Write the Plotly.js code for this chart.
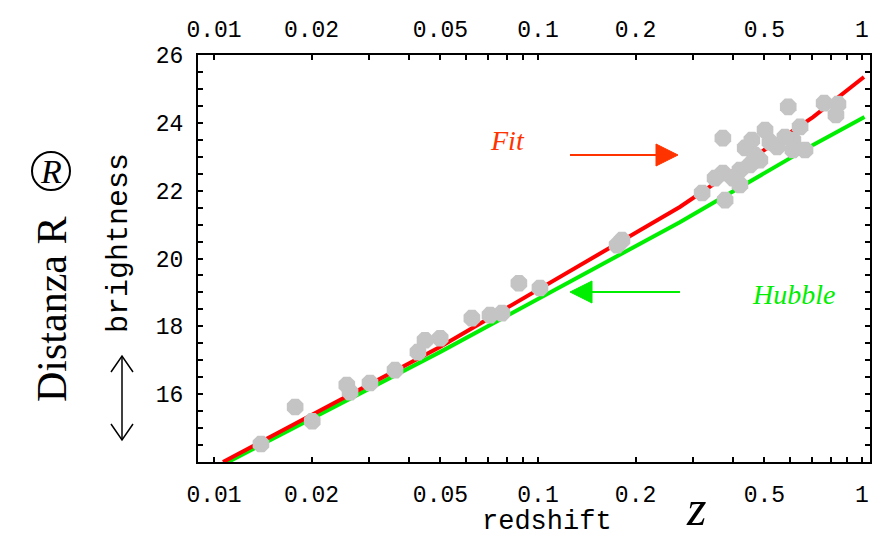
<!DOCTYPE html>
<html>
<head>
<meta charset="utf-8">
<script src="https://cdn.plot.ly/plotly-3.0.1.min.js"></script>
<style>html,body{margin:0;padding:0;background:#fff;}#chart{width:886px;height:539px;}</style>
</head>
<body>
<div id="chart"></div>
<script>
// ---- data ----
const snZ = [0.01396,0.0178,0.0201,0.0257,0.0263,0.0303,0.0362,0.0426,0.0448,0.0499,0.0625,0.0711,0.0774,0.0873,0.1014,0.1754,0.1816,
  0.372,0.592,0.764,0.843,0.831,0.502,0.436,0.457,0.372,0.352,0.321,0.378,0.420,0.420,0.400,0.484,0.547,0.612,0.644,0.578,0.520,0.667,0.612,0.451,0.467];
const snM = [14.53,15.62,15.20,16.27,16.06,16.33,16.71,17.24,17.59,17.65,18.24,18.33,18.39,19.27,19.13,20.39,20.54,
  23.55,24.47,24.58,24.55,24.23,23.79,23.26,23.49,22.52,22.37,21.93,21.72,22.17,22.61,22.37,22.90,23.29,23.49,23.88,23.58,23.43,23.20,23.20,22.76,23.05];
const fitZ = [0.01066,0.0498,0.274,0.706,1.014];
const fitM = [14.0,17.39,21.52,24.17,25.35];
const hubZ = [0.0109,0.0498,0.274,0.706,1.018];
const hubM = [13.97,17.24,21.07,23.35,24.17];
const xTickVals = [0.01,0.02,0.05,0.1,0.2,0.5,1];
const xTickText = ['0.01','0.02','0.05','0.1','0.2','0.5','1'];
const xMinorVals = [0.03,0.04,0.06,0.07,0.08,0.09,0.3,0.4,0.6,0.7,0.8,0.9];
const yTickVals = [16,18,20,22,24,26];
const yTickText = ['16','18','20','22','24','26'];
const yMinorVals = [14.5,15,15.5,16.5,17,17.5,18.5,19,19.5,20.5,21,21.5,22.5,23,23.5,24.5,25,25.5];

// all ticks (labelled majors + blank minors)
const xAllVals = xTickVals.concat(xMinorVals);
const xAllText = xTickText.concat(xMinorVals.map(() => ''));
const yAllVals = yTickVals.concat(yMinorVals);
const yAllText = yTickText.concat(yMinorVals.map(() => ''));

// ---- layout helpers (pixel -> paper) ----
const L=198, R=870, T=55, B=462;
const W=886, H=539;
const px = x => (x-L)/(R-L);
const py = y => (B-y)/(B-T);

const mono = 'Liberation Mono, Courier New, monospace';
const serif = 'Liberation Serif, Times New Roman, serif';
const xr = [Math.log10(0.01)-16/324, Math.log10(1)+8/324];

const traces = [
  {x:hubZ, y:hubM, type:'scatter', mode:'lines', line:{color:'#00ee00', width:4}, hoverinfo:'skip'},
  {x:fitZ, y:fitM, type:'scatter', mode:'lines', line:{color:'#ff0000', width:4}, hoverinfo:'skip'},
  {x:snZ, y:snM, type:'scatter', mode:'markers', marker:{color:'#c4c4c4', size:18, symbol:'octagon', line:{width:0}}, hoverinfo:'skip'},
  {x:[0.1], y:[20], xaxis:'x2', type:'scatter', mode:'markers', marker:{opacity:0}, hoverinfo:'skip'}
];

const axFont = {family:mono, size:23, color:'#000'};
const layout = {
  width:W, height:H,
  margin:{l:L, r:W-R, t:T, b:H-B, pad:0},
  paper_bgcolor:'#fff', plot_bgcolor:'#fff',
  showlegend:false,
  xaxis:{type:'log', range:xr, showgrid:false, zeroline:false,
    showline:true, linecolor:'#000', linewidth:2, mirror:'ticks',
    ticks:'inside', ticklen:5, tickwidth:2, tickcolor:'#000',
    tickmode:'array', tickvals:xAllVals, ticktext:xAllText, tickfont:axFont, ticklabelstandoff:10},
  xaxis2:{type:'log', range:xr, overlaying:'x', side:'top', showgrid:false, zeroline:false,
    showline:false, ticks:'', tickvals:xTickVals, ticktext:xTickText, tickfont:axFont, ticklabelstandoff:12},
  yaxis:{range:[14,26], showgrid:false, zeroline:false,
    showline:true, linecolor:'#000', linewidth:2, mirror:'ticks',
    ticks:'inside', ticklen:5, tickwidth:2, tickcolor:'#000',
    tickmode:'array', tickvals:yAllVals, ticktext:yAllText, tickfont:axFont, ticklabelstandoff:8},
  annotations:[
    {xref:'paper', yref:'paper', x:px(547), y:py(522), text:'redshift', showarrow:false,
     font:{family:mono, size:27, color:'#000'}, xanchor:'center', yanchor:'middle'},
    {xref:'paper', yref:'paper', x:px(119), y:py(243), text:'brightness', showarrow:false, textangle:-90,
     font:{family:mono, size:30, color:'#000'}, xanchor:'center', yanchor:'middle'},
    {xref:'paper', yref:'paper', x:px(52), y:py(310), text:'Distanza R', showarrow:false, textangle:-90,
     font:{family:serif, size:42, color:'#000'}, xanchor:'center', yanchor:'middle'},
    {xref:'paper', yref:'paper', x:px(51), y:py(171), text:'<i>R</i>', showarrow:false,
     font:{family:serif, size:34, color:'#000'}, xanchor:'center', yanchor:'middle'},
    {xref:'paper', yref:'paper', x:px(696), y:py(508), text:'<i>z</i>', showarrow:false,
     font:{family:serif, size:50, color:'#000'}, xanchor:'center', yanchor:'middle'},
    {xref:'paper', yref:'paper', x:px(507), y:py(140), text:'<i>Fit</i>', showarrow:false,
     font:{family:serif, size:28, color:'#ff3300'}, xanchor:'center', yanchor:'middle'},
    {xref:'paper', yref:'paper', x:px(793), y:py(294), text:'<i>Hubble</i>', showarrow:false,
     font:{family:serif, size:28, color:'#00ee00'}, xanchor:'center', yanchor:'middle'}
  ],
  shapes:[
    {type:'circle', xref:'paper', yref:'paper', x0:px(32), x1:px(70), y0:py(190), y1:py(152), line:{color:'#000', width:2}},
    {type:'line', xref:'paper', yref:'paper', x0:px(570), x1:px(660), y0:py(155), y1:py(155), line:{color:'#ff3300', width:2}},
    {type:'path', xref:'paper', yref:'paper', path:`M ${px(656)},${py(144)} L ${px(678)},${py(155)} L ${px(656)},${py(166)} Z`, fillcolor:'#ff3300', line:{color:'#ff3300', width:1}},
    {type:'line', xref:'paper', yref:'paper', x0:px(590), x1:px(680), y0:py(292), y1:py(292), line:{color:'#00ee00', width:2}},
    {type:'path', xref:'paper', yref:'paper', path:`M ${px(592)},${py(281)} L ${px(570)},${py(292)} L ${px(592)},${py(303)} Z`, fillcolor:'#00ee00', line:{color:'#00ee00', width:1}},
    {type:'line', xref:'paper', yref:'paper', x0:px(122), x1:px(122), y0:py(356), y1:py(440), line:{color:'#000', width:1.5}},
    {type:'path', xref:'paper', yref:'paper', path:`M ${px(111)},${py(372)} L ${px(122)},${py(356)} L ${px(133)},${py(372)}`, line:{color:'#000', width:1.5}},
    {type:'path', xref:'paper', yref:'paper', path:`M ${px(111)},${py(424)} L ${px(122)},${py(440)} L ${px(133)},${py(424)}`, line:{color:'#000', width:1.5}}
  ]
};
Plotly.newPlot('chart', traces, layout, {staticPlot:true, displayModeBar:false});
</script>
</body>
</html>
